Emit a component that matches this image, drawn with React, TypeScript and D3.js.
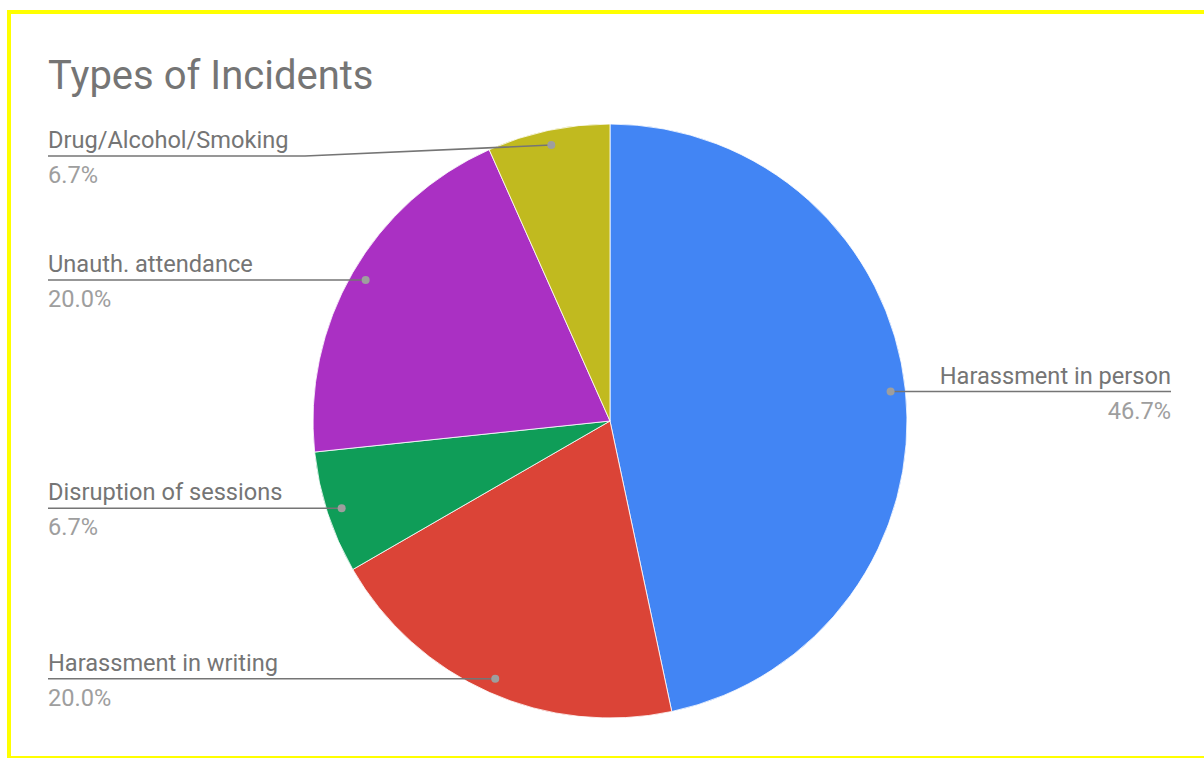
import React from "react";
import * as d3 from "d3";

const categories = [
  "Harassment in person",
  "Harassment in writing",
  "Disruption of sessions",
  "Unauth. attendance",
  "Drug/Alcohol/Smoking",
];
const counts = [7, 3, 1, 3, 1];
const colors = ["#4285F4", "#DB4437", "#0F9D58", "#AA30C3", "#C1BA1F"];
const title = "Types of Incidents";

const W = 1204;
const H = 758;
const cx = 610;
const cy = 421;
const R = 297;
const dotR = R * 0.95;
const leftX = 48;
const rightX = 1171;
const minLineY = 156;
const labelColor = "#757575";
const pctColor = "#9E9E9E";
const font = "Roboto, 'Noto Sans', sans-serif";

export default function App() {
  const total = d3.sum(counts);
  const pie = d3
    .pie<number>()
    .sort(null)
    .value((d) => d);
  const arcs = pie(counts);
  const arc = d3.arc<d3.PieArcDatum<number>>().innerRadius(0).outerRadius(R);
  const fmt = d3.format(".1%");

  return (
    <svg
      width={W}
      height={H}
      style={{ position: "absolute", left: 0, top: 0, background: "#fff" }}
    >
      <rect x={9} y={12} width={W + 20} height={746} fill="none" stroke="#FFFF00" strokeWidth={4} />
      <text x={leftX} y={89} fontFamily={font} fontSize={40} fill={labelColor}>
        {title}
      </text>
      <g transform={`translate(${cx},${cy})`}>
        {arcs.map((a, i) => (
          <path key={i} d={arc(a) || ""} fill={colors[i]} stroke="#fff" strokeWidth={0.8} />
        ))}
      </g>
      {arcs.map((a, i) => {
        const mid = (a.startAngle + a.endAngle) / 2;
        const dx = cx + dotR * Math.sin(mid);
        const dy = cy - dotR * Math.cos(mid);
        const right = Math.sin(mid) > 0;
        const ly = Math.max(dy, minLineY);
        const endX = right ? rightX : leftX;
        let path: string;
        if (Math.abs(ly - dy) > 0.5) {
          const kneeX = 305;
          path = `M${dx},${dy}L${kneeX},${ly}L${endX},${ly}`;
        } else {
          path = `M${dx},${dy}L${endX},${ly}`;
        }
        const anchor = right ? "end" : "start";
        return (
          <g key={i}>
            <path d={path} fill="none" stroke={labelColor} strokeWidth={1.6} />
            <circle cx={dx} cy={dy} r={4} fill={pctColor} />
            <text
              x={endX}
              y={ly - 8}
              textAnchor={anchor}
              fontFamily={font}
              fontSize={23.6}
              fill={labelColor}
            >
              {categories[i]}
            </text>
            <text
              x={endX}
              y={ly + 27}
              textAnchor={anchor}
              fontFamily={font}
              fontSize={23.6}
              fill={pctColor}
            >
              {fmt(counts[i] / total)}
            </text>
          </g>
        );
      })}
    </svg>
  );
}
